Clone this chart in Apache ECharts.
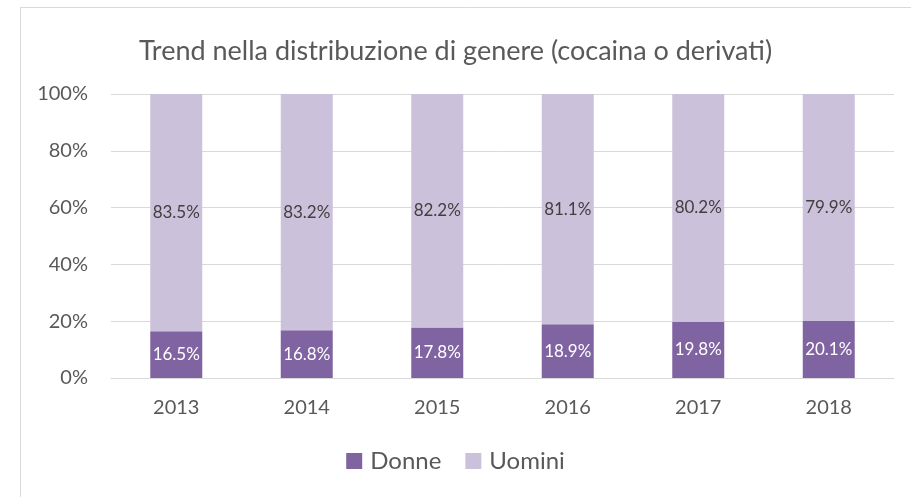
<!DOCTYPE html>
<html>
<head>
<meta charset="utf-8">
<script src="https://cdn.jsdelivr.net/npm/echarts@6/dist/echarts.min.js"></script>
<style>
  html, body { margin: 0; padding: 0; background: #fff; }
  #main { width: 911px; height: 497px; }
</style>
</head>
<body>
<div id="main"></div>
<script>
var anni = ['2013', '2014', '2015', '2016', '2017', '2018'];
var donne = [16.5, 16.8, 17.8, 18.9, 19.8, 20.1];
var uomini = [83.5, 83.2, 82.2, 81.1, 80.2, 79.9];
var yTicks = [0, 20, 40, 60, 80, 100];

var font = 'Lato, "Open Sans", sans-serif';

function initChart() {
    var myChart = echarts.init(document.getElementById('main'));
    var option = {
        animation: false,
        textStyle: { fontFamily: font },
        graphic: [{
            type: 'rect',
            shape: { x: 20.5, y: 7.5, width: 1000, height: 1000 },
            style: { fill: 'none', stroke: '#d9d9d9', lineWidth: 1 },
            silent: true
        }],
        title: {
            text: 'Trend nella distribuzione di genere (cocaina o derivati)',
            left: 'center',
            top: 33,
            textStyle: { fontFamily: font, fontSize: 27, fontWeight: 'normal', color: '#595959' }
        },
        legend: {
            bottom: 19,
            left: 'center',
            itemWidth: 16,
            itemHeight: 16,
            itemGap: 24,
            icon: 'rect',
            textStyle: { fontFamily: font, fontSize: 24, color: '#595959', padding: [0, 0, 0, 3] },
            data: ['Donne', 'Uomini']
        },
        grid: {
            left: 111,
            right: 17,
            top: 94,
            bottom: 119
        },
        xAxis: {
            type: 'category',
            data: anni,
            axisLine: { show: true, lineStyle: { color: '#d9d9d9' } },
            axisTick: { show: false },
            axisLabel: { color: '#595959', fontSize: 20, margin: 20, fontFamily: font }
        },
        yAxis: {
            type: 'value',
            min: 0,
            max: 100,
            interval: 20,
            axisLine: { show: false },
            axisTick: { show: false },
            splitLine: { lineStyle: { color: '#d9d9d9' } },
            axisLabel: {
                color: '#595959',
                fontSize: 20,
                margin: 23,
                fontFamily: font,
                formatter: function (v) { return yTicks.indexOf(v) >= 0 ? v + '%' : ''; }
            }
        },
        series: [{
            name: 'Donne',
            type: 'bar',
            stack: 'tot',
            data: donne,
            barWidth: 52,
            itemStyle: { color: '#8064a2' },
            label: {
                show: true,
                position: 'inside',
                color: '#ffffff',
                fontSize: 17,
                fontFamily: font,
                formatter: function (p) { return p.value.toFixed(1) + '%'; }
            }
        }, {
            name: 'Uomini',
            type: 'bar',
            stack: 'tot',
            data: uomini,
            barWidth: 52,
            itemStyle: { color: '#ccc1da' },
            label: {
                show: true,
                position: 'inside',
                color: '#404040',
                fontSize: 17,
                fontFamily: font,
                formatter: function (p) { return p.value.toFixed(1) + '%'; }
            }
        }]
    };
    myChart.setOption(option);
}

initChart();
</script>
</body>
</html>
